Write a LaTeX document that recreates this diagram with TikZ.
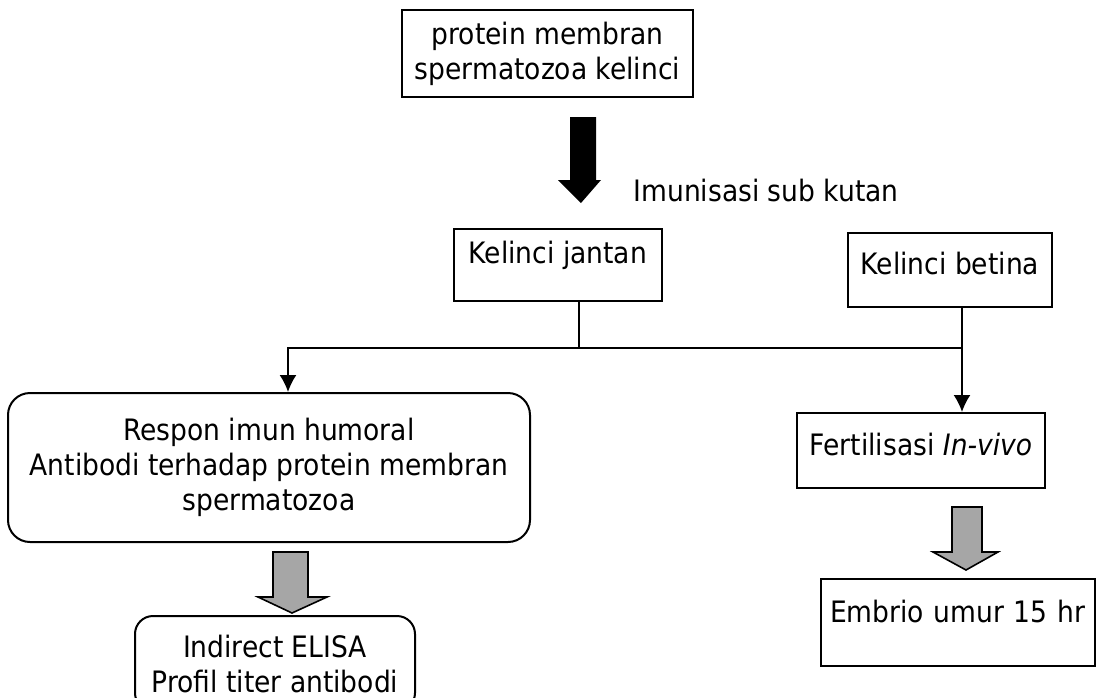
\documentclass[tikz,border=0pt]{standalone}
\usepackage{fontspec}
\setmainfont{DejaVu Sans Condensed}[ItalicFont={DejaVu Sans Condensed Oblique}]
\usetikzlibrary{arrows.meta}

\begin{document}
\begin{tikzpicture}[x=1pt,y=-1pt,
    font=\fontsize{29.5}{35}\selectfont,
    box/.style={draw,line width=2pt,inner xsep=0pt,inner ysep=10pt,align=center},
    rbox/.style={box,rounded corners=22pt},
    link/.style={line width=1.8pt},
    arr/.style={link,-{Latex[length=17pt,width=17pt]}},
    fat/.style={draw,line width=1.6pt,fill=black!35},
    ]
\clip (0,0) rectangle (1096,697);

\node[box,minimum width=291pt,minimum height=87pt] (prot) at (547.5,53.5) {protein membran\\spermatozoa kelinci};
\node[box,anchor=north,minimum width=208pt,text height=24pt,text depth=28pt] (jantan) at (558,228) {Kelinci jantan};
\node[box,anchor=north,minimum width=204pt,text height=31pt,text depth=23pt] (betina) at (950,232) {Kelinci betina};
\node[rbox,minimum width=522pt,minimum height=149pt] (respon) at (269,467.5) {Respon imun humoral\\Antibodi terhadap protein membran\\spermatozoa};
\node[rbox,anchor=north,minimum width=280pt,minimum height=95pt,rounded corners=18pt] (elisa) at (275,615) {Indirect ELISA\\Profil titer antibodi};
\node[box,anchor=north,minimum width=248pt,text height=32pt,text depth=23pt] (fert) at (921,412) {Fertilisasi \textit{In-vivo}};
\node[box,anchor=north west,inner xsep=9pt,text width=256pt,align=left,text height=33pt,text depth=34pt] (embrio) at (820,578) {Embrio umur 15 hr};

% block arrows
\fill (570,117) -- (596,117) -- (596,180) -- (601,180) -- (581,203) -- (558,180) -- (570,180) -- cycle;
\node[anchor=west] (imun) at (630,190) {Imunisasi sub kutan};
\path[fat] (273,552) -- (308,552) -- (308,597) -- (327,597) -- (292,613) -- (258,597) -- (273,597) -- cycle;
\path[fat] (952,507) -- (982,507) -- (982,552) -- (998,552) -- (966,570) -- (933,552) -- (952,552) -- cycle;

\coordinate (jn) at (579,348);
\coordinate (lf) at (288,348);
\coordinate (bt) at (962,348);
\draw[link] (jantan.south -| jn) -- (jn);
\draw[arr] (bt) -- (lf) -- (lf |- respon.north);
\draw[arr] (betina.south -| bt) -- (bt |- fert.north);
\end{tikzpicture}
\end{document}
